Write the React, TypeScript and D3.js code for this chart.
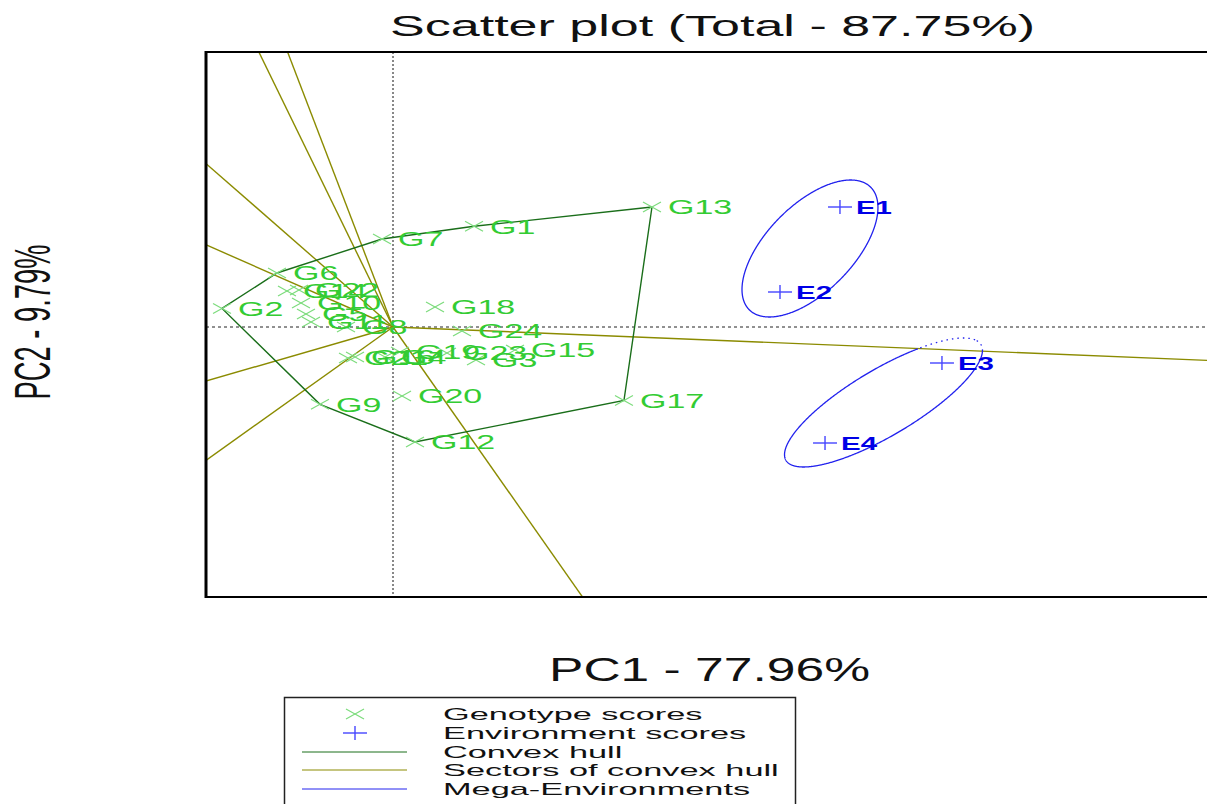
import React from 'react';
import * as d3 from 'd3';

// ---------- data ----------
const genotypes = ['G1','G2','G3','G4','G5','G6','G7','G8','G9','G10','G11','G12','G13','G14','G15','G16','G17','G18','G19','G20','G21','G22','G23','G24'];
const genoPC1 = [0.862,-1.819,0.883,-0.085,-0.926,-1.234,-0.117,-0.500,-0.777,-0.979,-0.872,0.234,2.755,-1.128,1.298,-0.404,2.457,0.447,0.074,0.096,-0.479,-1.000,0.574,0.734];
const genoPC2 = [2.014,0.372,-0.66,-0.60,0.26,1.08,1.76,0.00,-1.546,0.48,0.10,-2.30,2.40,0.72,-0.46,-0.60,-1.47,0.40,-0.50,-1.38,-0.62,0.74,-0.52,-0.08];

const environments = ['E1','E2','E3','E4'];
const envPC1 = [4.755,4.117,5.840,4.596];
const envPC2 = [2.40,0.70,-0.72,-2.32];

const megaEnvGroups = [['E1','E2'],['E3','E4']];
const ellipseCx = [4.436,5.218];
const ellipseCy = [1.57,-1.51];
const ellipseSemiMajor = [1.449,1.587];
const ellipseSemiMinor = [0.548,0.504];
const ellipseAngleDeg = [69.4,52.1];

const titleText = 'Scatter plot (Total - 87.75%)';
const xAxisLabel = 'PC1 - 77.96%';
const yAxisLabel = 'PC2 - 9.79%';
const legendLabels = ['Genotype scores','Environment scores','Convex hull','Sectors of convex hull','Mega-Environments'];

// ---------- layout ----------
const W = 1207, H = 804;
const PL = 206, PT = 52, PB = 597, PR = 1240;
const COL_GENO_MARK = '#7ddc7d';
const COL_GENO_TEXT = '#33cc33';
const COL_HULL = '#1a6e1a';
const COL_SECT = '#8b8b00';
const COL_ENV_MARK = '#4545ff';
const COL_ENV_TEXT = '#0000e6';
const COL_MEGA = '#2222ee';
const FONT = "'Liberation Sans', Arial, sans-serif";

const x = d3.scaleLinear().domain([-1.9894, 8.6596]).range([206, 1207]);
const y = d3.scaleLinear().domain([-5.4, 5.5]).range([597, 52]);

function Cross({ cx, cy, hw, hh, color, sw = 1.2 }: any) {
  return (
    <g stroke={color} strokeWidth={sw}>
      <line x1={cx - hw} y1={cy - hh} x2={cx + hw} y2={cy + hh} />
      <line x1={cx - hw} y1={cy + hh} x2={cx + hw} y2={cy - hh} />
    </g>
  );
}
function Plus({ cx, cy, hw, hh, color, sw = 1.4 }: any) {
  return (
    <g stroke={color} strokeWidth={sw}>
      <line x1={cx - hw} y1={cy} x2={cx + hw} y2={cy} />
      <line x1={cx} y1={cy - hh} x2={cx} y2={cy + hh} />
    </g>
  );
}
function SText({ x: tx, y: ty, sx, children, ...rest }: any) {
  return (
    <g transform={`translate(${tx},${ty}) scale(${sx},1)`}>
      <text x={0} y={0} {...rest}>{children}</text>
    </g>
  );
}

export default function App() {
  const pts: [number, number][] = genotypes.map((_, i) => [genoPC1[i], genoPC2[i]]);
  const hull = d3.polygonHull(pts) as [number, number][];

  // sector rays: perpendicular from origin to each hull edge
  const rays: { ang: number; end: [number, number] }[] = [];
  for (let i = 0; i < hull.length; i++) {
    const P = hull[i], Q = hull[(i + 1) % hull.length];
    const dx = Q[0] - P[0], dy = Q[1] - P[1];
    const t = -(P[0] * dx + P[1] * dy) / (dx * dx + dy * dy);
    const fx = P[0] + t * dx, fy = P[1] + t * dy;
    const len = Math.hypot(fx, fy);
    rays.push({ ang: Math.atan2(fy, fx), end: [(fx / len) * 60, (fy / len) * 60] });
  }
  const sortedAng = rays.map(r => r.ang).sort((a, b) => a - b);
  const sectorOf = (a: number) => {
    for (let i = 0; i < sortedAng.length - 1; i++) {
      if (a >= sortedAng[i] && a < sortedAng[i + 1]) return i;
    }
    return sortedAng.length - 1;
  };

  const line = d3.line<[number, number]>().x(d => x(d[0])).y(d => y(d[1]));

  // ellipses split into solid / dotted runs
  const ellipseRuns: { d: string; dotted: boolean }[] = [];
  megaEnvGroups.forEach((_, k) => {
    const th = (ellipseAngleDeg[k] * Math.PI) / 180;
    const a = ellipseSemiMajor[k], b = ellipseSemiMinor[k];
    const cx = ellipseCx[k], cy = ellipseCy[k];
    const home = sectorOf(Math.atan2(cy, cx));
    const N = 720;
    const ps: { p: [number, number]; dot: boolean }[] = [];
    for (let j = 0; j <= N; j++) {
      const t = (j / N) * Math.PI * 2;
      const px = cx + a * Math.cos(th) * Math.cos(t) - b * Math.sin(th) * Math.sin(t);
      const py = cy + a * Math.sin(th) * Math.cos(t) + b * Math.cos(th) * Math.sin(t);
      ps.push({ p: [px, py], dot: sectorOf(Math.atan2(py, px)) !== home });
    }
    let run: [number, number][] = [ps[0].p];
    let cur = ps[0].dot;
    for (let j = 1; j < ps.length; j++) {
      run.push(ps[j].p);
      if (ps[j].dot !== cur) {
        ellipseRuns.push({ d: line(run) as string, dotted: cur });
        run = [ps[j].p];
        cur = ps[j].dot;
      }
    }
    ellipseRuns.push({ d: line(run) as string, dotted: cur });
  });

  const hullPath = line([...hull, hull[0]]) as string;
  const legendY = [714, 733, 752, 770, 789];

  return (
    <svg width={W} height={H} style={{ position: 'absolute', left: 0, top: 0, background: '#fff' }} fontFamily={FONT}>
      <defs>
        <clipPath id="plotclip">
          <rect x={PL} y={PT} width={PR - PL} height={PB - PT} />
        </clipPath>
      </defs>
      <rect x={0} y={0} width={W} height={H} fill="#fff" />

      {/* title */}
      <text x={390} y={36} fontSize={30} textLength={645} lengthAdjust="spacingAndGlyphs" fill="#111">{titleText}</text>

      <g clipPath="url(#plotclip)">
        {/* reference axes */}
        <line x1={x(0)} y1={PT} x2={x(0)} y2={PB} stroke="#111" strokeWidth={1} strokeDasharray="2,2" />
        <line x1={PL} y1={y(0)} x2={PR} y2={y(0)} stroke="#222" strokeWidth={1} strokeDasharray="3,3" />

        {/* sector rays */}
        {rays.map((r, i) => (
          <line key={'r' + i} x1={x(0)} y1={y(0)} x2={x(r.end[0])} y2={y(r.end[1])} stroke={COL_SECT} strokeWidth={1.4} />
        ))}

        {/* convex hull */}
        <path d={hullPath} fill="none" stroke={COL_HULL} strokeWidth={1.4} />

        {/* mega-environment ellipses */}
        {ellipseRuns.map((r, i) => (
          <path key={'e' + i} d={r.d} fill="none" stroke={COL_MEGA} strokeWidth={1.3}
            strokeDasharray={r.dotted ? '1.5,4' : undefined} />
        ))}

        {/* genotype markers */}
        {genotypes.map((g, i) => (
          <Cross key={'gm' + g} cx={x(genoPC1[i])} cy={y(genoPC2[i])} hw={9} hh={5} color={COL_GENO_MARK} />
        ))}
        {genotypes.map((g, i) => (
          <SText key={'gl' + g} x={x(genoPC1[i]) + 16} y={y(genoPC2[i])} sx={1.7} dy="0.36em"
            fontSize={20} fill={COL_GENO_TEXT}>{g}</SText>
        ))}

        {/* environment markers */}
        {environments.map((e, i) => (
          <Plus key={'em' + e} cx={x(envPC1[i])} cy={y(envPC2[i])} hw={12} hh={7} color={COL_ENV_MARK} />
        ))}
        {environments.map((e, i) => (
          <SText key={'el' + e} x={x(envPC1[i]) + 16} y={y(envPC2[i])} sx={1.55} dy="0.36em"
            fontSize={19} fontWeight="bold" fill={COL_ENV_TEXT}>{e}</SText>
        ))}
      </g>

      {/* frame */}
      <line x1={PL} y1={PT} x2={PR} y2={PT} stroke="#000" strokeWidth={2} />
      <line x1={PL} y1={PB} x2={PR} y2={PB} stroke="#000" strokeWidth={2} />
      <line x1={PL} y1={PT - 1} x2={PL} y2={PB + 1} stroke="#000" strokeWidth={3} />

      {/* axis labels */}
      <text x={549} y={681} fontSize={33} textLength={321} lengthAdjust="spacingAndGlyphs" fill="#111">{xAxisLabel}</text>
      <text transform="translate(50,322) rotate(-90)" textAnchor="middle" fontSize={50} textLength={155}
        lengthAdjust="spacingAndGlyphs" fill="#111">{yAxisLabel}</text>

      {/* legend */}
      <rect x={284.5} y={697.5} width={511} height={130} fill="none" stroke="#222" strokeWidth={1.5} />
      <Cross cx={355} cy={legendY[0]} hw={9} hh={5} color={COL_GENO_MARK} />
      <Plus cx={355} cy={legendY[1]} hw={12} hh={7} color={COL_ENV_MARK} />
      <line x1={302} y1={legendY[2]} x2={407} y2={legendY[2]} stroke={COL_HULL} strokeWidth={1} />
      <line x1={302} y1={legendY[3]} x2={407} y2={legendY[3]} stroke={COL_SECT} strokeWidth={1} />
      <line x1={302} y1={legendY[4]} x2={407} y2={legendY[4]} stroke={COL_MEGA} strokeWidth={1} />
      {legendLabels.map((l, i) => (
        <SText key={'lg' + i} x={443} y={legendY[i]} sx={2.02} dy="0.36em" fontSize={17} fill="#111">{l}</SText>
      ))}
    </svg>
  );
}
